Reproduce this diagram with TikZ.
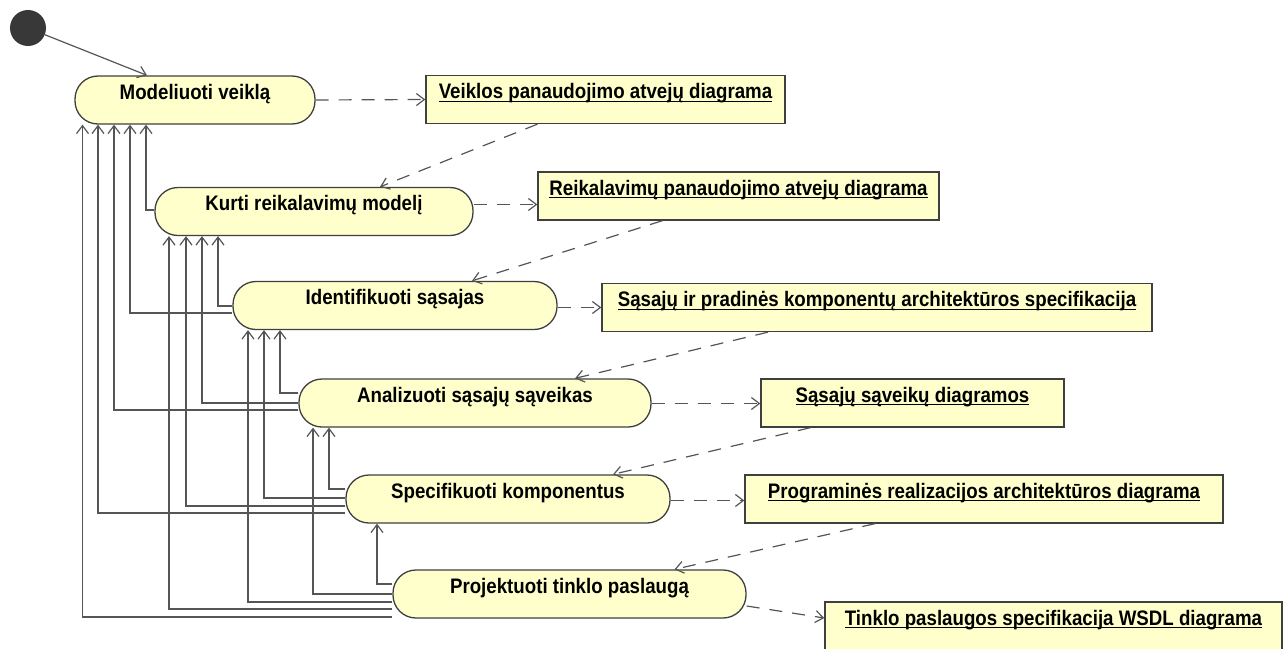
\documentclass[tikz,border=0pt]{standalone}
\usepackage{fontspec}
\setmainfont{Liberation Sans}[FakeStretch=0.89]
\usetikzlibrary{arrows.meta}
\definecolor{noteyellow}{HTML}{FFFFCC}
\definecolor{edgegray}{HTML}{3F3F3F}
\definecolor{wiregray}{HTML}{555555}
\definecolor{startgray}{HTML}{383838}
% underlined artifact title with a fixed rule just below the baseline
\newcommand\ulbox[1]{\setbox0\hbox{#1}\rlap{\rule[-3.4pt]{\wd0}{1.4pt}}\box0}
\begin{document}
\begin{tikzpicture}[x=1pt,y=-1pt,
  font=\fontsize{21}{24}\selectfont\bfseries,
  usecase/.style={draw=edgegray, line width=1.3pt, fill=noteyellow,
    rounded corners=23pt, inner sep=0pt, text height=23pt, text depth=25pt},
  artifact/.style={draw=edgegray, line width=1.3pt, fill=noteyellow,
    inner sep=0pt, text height=23pt, text depth=25pt},
  flow/.style={draw=wiregray, line width=1.2pt,
    -{Straight Barb[length=8pt,width=12pt]}},
  dep/.style={flow, dash pattern=on 13pt off 10pt},
]
\useasboundingbox (0,0) rectangle (1284,648);

% activities
\node[usecase, minimum width=240pt] (model) at (195,100)   {Modeliuoti veiklą};
\node[usecase, minimum width=318pt] (kurti) at (314,211.5) {Kurti reikalavimų modelį};
\node[usecase, minimum width=324pt] (ident) at (395,305.5) {Identifikuoti sąsajas};
\node[usecase, minimum width=352pt] (anal)  at (475,403)   {Analizuoti sąsajų sąveikas};
\node[usecase, minimum width=324pt] (spec)  at (508,499)   {Specifikuoti komponentus};
\node[usecase, minimum width=353pt] (proj)  at (569.5,594) {Projektuoti tinklo paslaugą};

% produced artifacts
\node[artifact, minimum width=359pt] (veik)   at (605.5,99.5) {\ulbox{Veiklos panaudojimo atvejų diagrama}};
\node[artifact, minimum width=401pt] (reik)   at (738.5,196)  {\ulbox{Reikalavimų panaudojimo atvejų diagrama}};
\node[artifact, minimum width=550pt] (sas)    at (877,307.5)  {\ulbox{Sąsajų ir pradinės komponentų architektūros specifikacija}};
\node[artifact, minimum width=303pt] (sav)    at (912.5,403)  {\ulbox{Sąsajų sąveikų diagramos}};
\node[artifact, minimum width=478pt] (prog)   at (984,499)    {\ulbox{Programinės realizacijos architektūros diagrama}};
\node[artifact, minimum width=457pt] (tinklo) at (1053.5,626) {\ulbox{Tinklo paslaugos specifikacija WSDL diagrama}};

% initial state
\node[circle, fill=startgray, minimum size=36pt, inner sep=0pt] (start) at (28,28) {};
\draw[flow] (start) -- ([xshift=-48pt]model.north);

% returns to Modeliuoti veiklą
\draw[flow] ([yshift=1.5pt]kurti.west) -| ([xshift=-49pt]model.south);
\draw[flow] ([yshift=-7.5pt]ident.west) -| ([xshift=-65pt]model.south);
\draw[flow] ([yshift=-7pt]anal.west)   -| ([xshift=-81pt]model.south);
\draw[flow] ([yshift=-14pt]spec.west)  -| ([xshift=-97pt]model.south);
\draw[flow] ([yshift=-23pt]proj.west)  -| ([xshift=-112.5pt]model.south);

% returns to Kurti reikalavimų modelį
\draw[flow] ([yshift=-0.5pt]ident.west) -| ([xshift=-96pt]kurti.south);
\draw[flow] (anal.west)                 -| ([xshift=-112pt]kurti.south);
\draw[flow] ([yshift=-7pt]spec.west)    -| ([xshift=-128pt]kurti.south);
\draw[flow] ([yshift=-15pt]proj.west)   -| ([xshift=-145pt]kurti.south);

% returns to Identifikuoti sąsajas
\draw[flow] ([yshift=10pt]anal.west)  -| ([xshift=-115pt]ident.south);
\draw[flow] ([yshift=1pt]spec.west)   -| ([xshift=-131pt]ident.south);
\draw[flow] ([yshift=-8pt]proj.west)  -| ([xshift=-147pt]ident.south);

% returns to Analizuoti sąsajų sąveikas
\draw[flow] ([yshift=10pt]spec.west) -| ([xshift=-146pt]anal.south);
\draw[flow] (proj.west)              -| ([xshift=-162pt]anal.south);

% return to Specifikuoti komponentus
\draw[flow] ([yshift=10pt]proj.west) -| ([xshift=-131pt]spec.south);

% artifact dependencies
\draw[dep] (model.east) -- (veik.west);
\draw[dep] ([xshift=-68pt]veik.south) -- ([xshift=66pt]kurti.north);
\draw[dep] ([yshift=7pt]kurti.east) -- ([yshift=-8.5pt]reik.west);
\draw[dep] ([xshift=-76pt]reik.south) -- ([xshift=77pt]ident.north);
\draw[dep] ([yshift=-2pt]ident.east) -- (sas.west);
\draw[dep] ([xshift=-109pt]sas.south) -- ([xshift=100pt]anal.north);
\draw[dep] ([yshift=-0.5pt]anal.east) -- ([yshift=-0.5pt]sav.west);
\draw[dep] ([xshift=-102pt]sav.south) -- ([xshift=105pt]spec.north);
\draw[dep] ([yshift=-1.5pt]spec.east) -- ([yshift=-1.5pt]prog.west);
\draw[dep] ([xshift=-109pt]prog.south) -- ([xshift=105pt]proj.north);
\draw[dep] ([yshift=-12pt]proj.east) -- ([yshift=8pt]tinklo.west);
\end{tikzpicture}
\end{document}
